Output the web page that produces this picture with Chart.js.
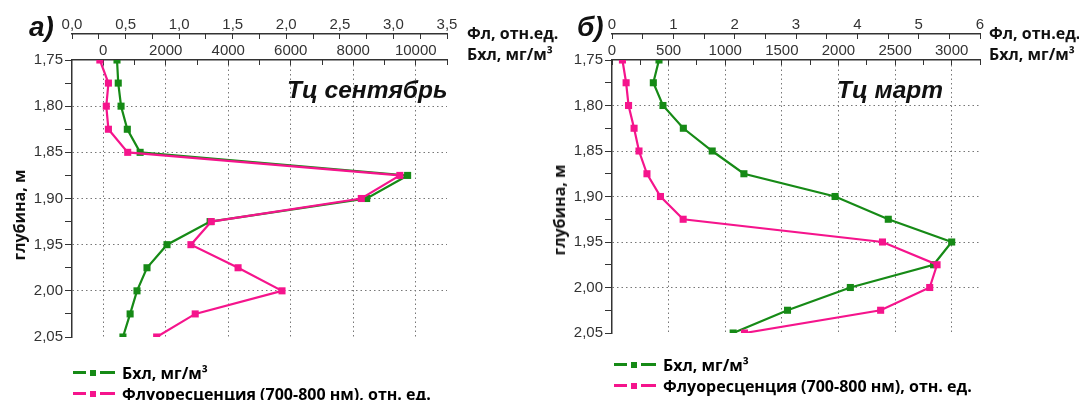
<!DOCTYPE html>
<html>
<head>
<meta charset="utf-8">
<script src="https://cdn.jsdelivr.net/npm/chart.js@4"></script>
<style>
  body { margin: 0; width: 1079px; height: 400px; overflow: hidden; background: #fff; position: relative; }
  canvas { position: absolute; top: 0; }
  .txt { position: absolute; white-space: nowrap; line-height: 1; color: #111; }
  .tag { font: italic bold 28px "Liberation Sans", Arial, sans-serif; }
  .ttl { font: italic bold 24.5px "Liberation Sans", Arial, sans-serif; }
  .ax  { font: bold 16px "Open Sans", sans-serif; }
  .ylab { font: bold 16px "Open Sans", sans-serif; transform: translate(-50%, -50%) rotate(-90deg); }
  .leg { font: bold 16px "Open Sans", sans-serif; display: flex; align-items: center; }
  .seg { display: inline-block; height: 2.5px; }
  .sq  { display: inline-block; width: 6px; height: 6px; margin: 0 4px; }
</style>
</head>
<body>
<canvas id="sepChart" width="540" height="400" style="left:0;width:540px;height:400px"></canvas>
<canvas id="marChart" width="539" height="400" style="left:540px;width:539px;height:400px"></canvas>

<div class="txt tag" style="left:29px;top:11px">а)</div>
<div class="txt tag" style="left:577px;top:11px">б)</div>

<div class="txt ax" style="left:467px;top:22px">Фл, отн.ед.</div>
<div class="txt ax" style="left:467px;top:43px">Бхл, мг/м³</div>
<div class="txt ax" style="left:989px;top:22px">Фл, отн.ед.</div>
<div class="txt ax" style="left:989px;top:43px">Бхл, мг/м³</div>

<div class="txt ttl" style="left:287px;top:76px">Тц сентябрь</div>
<div class="txt ttl" style="left:837px;top:76px">Тц март</div>

<div class="txt ylab" style="left:19px;top:215px">глубина, м</div>
<div class="txt ylab" style="left:559px;top:210px">глубина, м</div>

<div id="legLeft" style="position:absolute;left:73px;top:362px"></div>
<div id="legRight" style="position:absolute;left:614px;top:354px"></div>

<script>
// глубина, м
const depths = [1.75, 1.775, 1.8, 1.825, 1.85, 1.875, 1.9, 1.925, 1.95, 1.975, 2.0, 2.025, 2.05];

// Тц сентябрь
const sepBchl = [440, 480, 570, 770, 1180, 9740, 8430, 3420, 2040, 1400, 1080, 860, 630];
const sepFl = [0.26, 0.34, 0.32, 0.34, 0.52, 3.06, 2.70, 1.30, 1.11, 1.55, 1.96, 1.15, 0.79];

// Тц март
const marBchl = [415, 365, 450, 630, 885, 1165, 1970, 2440, 3000, 2840, 2105, 1550, 1070];
const marFl = [0.17, 0.23, 0.27, 0.36, 0.44, 0.57, 0.79, 1.16, 4.41, 5.30, 5.18, 4.38, 2.16];

// деления осей
const depthMajor = [1.75, 1.8, 1.85, 1.9, 1.95, 2.0, 2.05];
const depthMinor = [1.775, 1.825, 1.875, 1.925, 1.975, 2.025];
const sepFlMajor = [0, 0.5, 1, 1.5, 2, 2.5, 3, 3.5];
const sepFlMinor = [0.25, 0.75, 1.25, 1.75, 2.25, 2.75, 3.25];
const sepBchlMajor = [0, 2000, 4000, 6000, 8000, 10000];
const sepBchlMinor = [1000, 3000, 5000, 7000, 9000, 11000];
const marFlMajor = [0, 1, 2, 3, 4, 5, 6];
const marFlMinor = [0.5, 1.5, 2.5, 3.5, 4.5, 5.5];
const marBchlMajor = [0, 500, 1000, 1500, 2000, 2500, 3000];
const marBchlMinor = [250, 750, 1250, 1750, 2250, 2750, 3250];

const GREEN = '#168a16';
const PINK = '#f5148c';
const tickFont = { family: '"Liberation Sans", Arial, sans-serif', size: 15 };
const tickColor = '#333';
const gridColor = '#777';

function legend(id) {
    const rows = [
        [GREEN, 'Бхл, мг/м³'],
        [PINK, 'Флуоресценция (700-800 нм), отн. ед.']
    ];
    const box = document.getElementById(id);
    rows.forEach(([c, label]) => {
        box.innerHTML += `<div class="leg" style="height:21px">
            <span class="seg" style="width:13px;background:${c}"></span>
            <span class="sq" style="background:${c}"></span>
            <span class="seg" style="width:15px;background:${c}"></span>
            <span style="margin-left:7px">${label}</span></div>`;
    });
}

function setTicks(major, minor) {
    return scale => {
        scale.ticks = major.concat(minor).sort((a, b) => a - b).map(v => ({ value: v }));
    };
}

function makeChart(canvasId, cfg) {
    const ctx = document.getElementById(canvasId).getContext('2d');
    const pts = vals => depths.map((d, i) => ({ x: vals[i], y: d }));
    return new Chart(ctx, {
        type: 'scatter',
        data: {
            datasets: [
                {
                    label: 'Флуоресценция (700-800 нм), отн. ед.',
                    data: pts(cfg.fl), xAxisID: 'xf', yAxisID: 'y',
                    borderColor: PINK, backgroundColor: PINK,
                    showLine: true, borderWidth: 2.2, pointStyle: 'rect',
                    pointRadius: 5, pointBorderWidth: 0, order: 1
                },
                {
                    label: 'Бхл, мг/м³',
                    data: pts(cfg.bchl), xAxisID: 'xb', yAxisID: 'y',
                    borderColor: GREEN, backgroundColor: GREEN,
                    showLine: true, borderWidth: 2.2, pointStyle: 'rect',
                    pointRadius: 5, pointBorderWidth: 0, order: 2
                }
            ]
        },
        options: {
            responsive: false,
            animation: false,
            devicePixelRatio: 1,
            layout: { padding: { left: 0, top: 0, right: cfg.padRight, bottom: cfg.padBottom } },
            plugins: { legend: { display: false }, tooltip: { enabled: false } },
            scales: {
                y: {
                    type: 'linear', position: 'left', reverse: true,
                    min: 1.75, max: 2.05,
                    afterBuildTicks: setTicks(depthMajor, depthMinor),
                    afterFit: s => { s.width = 72; },
                    ticks: {
                        font: tickFont, color: tickColor, padding: 2, autoSkip: false,
                        callback: v => depthMajor.includes(v) ? v.toFixed(2).replace('.', ',') : ''
                    },
                    grid: {
                        tickLength: 7, tickColor: '#333', lineWidth: 1,
                        color: c => (c.tick && depthMajor.includes(c.tick.value) && c.tick.value > 1.75 && c.tick.value < 2.05) ? gridColor : 'rgba(0,0,0,0)'
                    },
                    border: { color: '#333', width: 1.5, dash: [1.5, 3] }
                },
                xb: {
                    type: 'linear', position: 'top', weight: 0,
                    min: cfg.bMin, max: cfg.bMax,
                    afterBuildTicks: setTicks(cfg.bMajor, cfg.bMinor),
                    afterFit: s => { s.height = 26; },
                    ticks: {
                        font: tickFont, color: tickColor, padding: 5, autoSkip: false, maxRotation: 0,
                        callback: v => cfg.bMajor.includes(v) ? String(v) : ''
                    },
                    grid: {
                        tickLength: -5, tickColor: '#333', lineWidth: 1,
                        color: c => (c.tick && cfg.bMajor.includes(c.tick.value) && c.tick.value > cfg.bMin) ? gridColor : 'rgba(0,0,0,0)'
                    },
                    border: { color: '#333', width: 1.5, dash: [1.5, 3] }
                },
                xf: {
                    type: 'linear', position: 'top', weight: 1,
                    min: 0, max: cfg.fMax,
                    afterBuildTicks: setTicks(cfg.fMajor, cfg.fMinor),
                    afterFit: s => { s.height = 34; },
                    ticks: {
                        font: tickFont, color: tickColor, padding: 5, autoSkip: false, maxRotation: 0,
                        callback: v => cfg.fMajor.includes(v) ? cfg.fFmt(v) : ''
                    },
                    grid: { drawOnChartArea: false, tickLength: -5, tickColor: '#333' },
                    border: { color: '#333', width: 1.5 }
                }
            }
        }
    });
}

makeChart('sepChart', {
    bchl: sepBchl, fl: sepFl,
    bMin: -1000, bMax: 11000, bMajor: sepBchlMajor, bMinor: sepBchlMinor,
    fMax: 3.5, fMajor: sepFlMajor, fMinor: sepFlMinor,
    fFmt: v => v.toFixed(1).replace('.', ','),
    padRight: 93, padBottom: 63
});

makeChart('marChart', {
    bchl: marBchl, fl: marFl,
    bMin: 0, bMax: 3250, bMajor: marBchlMajor, bMinor: marBchlMinor,
    fMax: 6, fMajor: marFlMajor, fMinor: marFlMinor,
    fFmt: v => String(v),
    padRight: 99, padBottom: 67
});

legend('legLeft');
legend('legRight');
</script>
</body>
</html>
